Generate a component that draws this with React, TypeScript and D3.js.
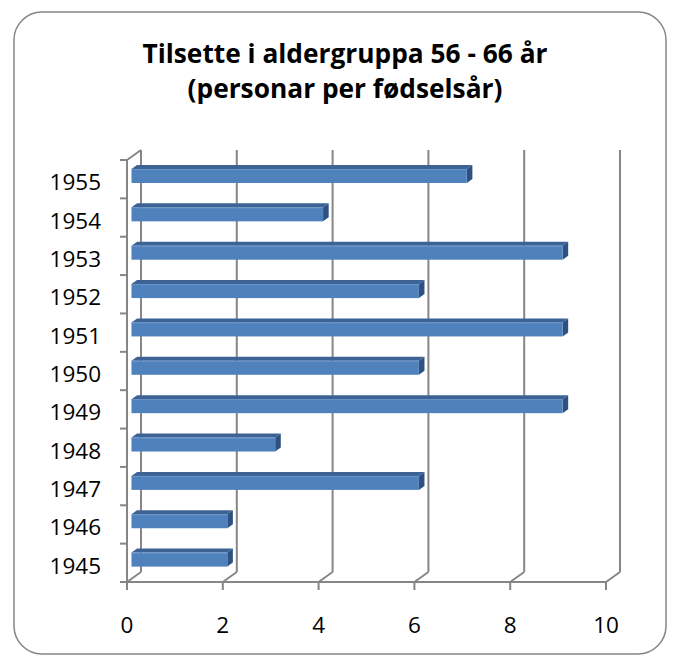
import React from "react";
import * as d3 from "d3";

const categories = ["1955", "1954", "1953", "1952", "1951", "1950", "1949", "1948", "1947", "1946", "1945"];
const values = [7, 4, 9, 6, 9, 6, 9, 3, 6, 2, 2];
const xTicks = [0, 2, 4, 6, 8, 10];
const titleLines = ["Tilsette i aldergruppa 56 - 66 år", "(personar per fødselsår)"];

const W = 676;
const H = 664;
const FONT = "'Open Sans', 'Liberation Sans', sans-serif";

export default function App() {
  const x = d3.scaleLinear().domain([0, 10]).range([127, 606]);
  const y = d3.scaleBand<string>().domain(categories).range([160, 582]);
  const dx = 14;
  const dy = -10;
  const f = 0.32;
  const b = 0.72;
  const barH = 14;
  const bw = y.bandwidth();
  const grid = "#868686";
  const y0 = 582;
  const yTop = 160;

  return (
    <div style={{ position: "absolute", left: 0, top: 0 }}>
      <svg width={W} height={H} style={{ display: "block", background: "#fff" }}>
        <rect x={14} y={12} width={652} height={642} rx={28} ry={28} fill="#fff" stroke="#868686" strokeWidth={1.5} />
        {titleLines.map((t, i) => (
          <text key={i} x={345} y={63 + i * 35} textAnchor="middle" fontFamily={FONT} fontWeight="bold" fontSize={26.3} fill="#000">
            {t}
          </text>
        ))}
        {/* back wall gridlines */}
        {xTicks.map((t) => (
          <line key={"g" + t} x1={x(t) + dx} x2={x(t) + dx} y1={yTop + dy} y2={y0 + dy} stroke={grid} strokeWidth={2} />
        ))}
        {/* floor diagonals */}
        {xTicks.map((t) => (
          <line key={"fd" + t} x1={x(t)} x2={x(t) + dx} y1={y0} y2={y0 + dy} stroke={grid} strokeWidth={2} />
        ))}
        {/* left axis front */}
        <line x1={x(0)} x2={x(0)} y1={yTop} y2={y0} stroke={grid} strokeWidth={2} />
        <line x1={x(0)} x2={x(0) + dx} y1={yTop} y2={yTop + dy} stroke={grid} strokeWidth={2} />
        {/* bottom axis front */}
        <line x1={x(0)} x2={x(10)} y1={y0} y2={y0} stroke={grid} strokeWidth={2} />
        {xTicks.map((t) => (
          <line key={"xt" + t} x1={x(t)} x2={x(t)} y1={y0} y2={y0 + 8} stroke={grid} strokeWidth={2} />
        ))}
        {categories.map((c) => (
          <line key={"yt" + c} x1={x(0) - 7} x2={x(0)} y1={y(c)!} y2={y(c)!} stroke={grid} strokeWidth={2} />
        ))}
        <line x1={x(0) - 7} x2={x(0)} y1={y0} y2={y0} stroke={grid} strokeWidth={2} />
        {/* bars */}
        {categories.map((c, i) => {
          const v = values[i];
          const cy = y(c)! + bw / 2;
          const top = cy - barH / 2;
          const bot = cy + barH / 2;
          const xa = x(0);
          const xb = x(v);
          const topFace = [
            [xa + f * dx, top + f * dy],
            [xb + f * dx, top + f * dy],
            [xb + b * dx, top + b * dy],
            [xa + b * dx, top + b * dy],
          ];
          const side = [
            [xb + f * dx, top + f * dy],
            [xb + b * dx, top + b * dy],
            [xb + b * dx, bot + b * dy],
            [xb + f * dx, bot + f * dy],
          ];
          return (
            <g key={"b" + c}>
              <polygon points={topFace.map((p) => p.join(",")).join(" ")} fill="#3C6394" />
              <polygon points={side.map((p) => p.join(",")).join(" ")} fill="#2D5282" />
              <rect x={xa + f * dx} y={top + f * dy} width={xb - xa} height={barH} fill="#4F81BD" />
              <line x1={xa + f * dx} x2={xb + f * dx} y1={top + f * dy + 0.5} y2={top + f * dy + 0.5} stroke="#6B95C9" strokeWidth={1} />
            </g>
          );
        })}
        {/* labels */}
        {categories.map((c) => (
          <text key={"yl" + c} x={101} y={y(c)! + bw / 2 + 11} textAnchor="end" fontFamily={FONT} fontSize={22.5} fill="#000">
            {c}
          </text>
        ))}
        {xTicks.map((t) => (
          <text key={"xl" + t} x={x(t)} y={633} textAnchor="middle" fontFamily={FONT} fontSize={22.5} fill="#000">
            {t}
          </text>
        ))}
      </svg>
    </div>
  );
}
